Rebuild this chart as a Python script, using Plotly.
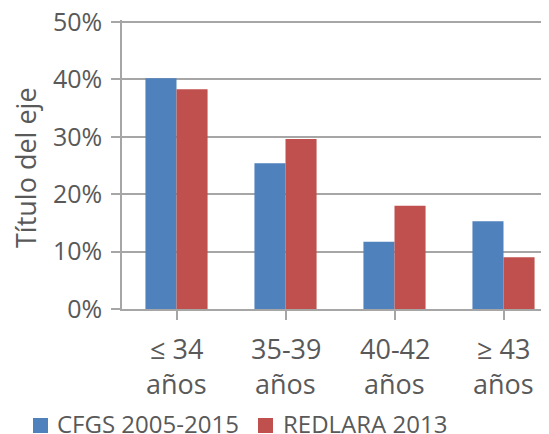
import plotly.graph_objects as go

categories = ["≤ 34", "35-39", "40-42", "≥ 43"]
cat_line2 = ["años", "años", "años", "años"]
cfgs = [0.402, 0.254, 0.117, 0.153]
redlara = [0.383, 0.296, 0.180, 0.090]
series_names = ["CFGS 2005-2015", "REDLARA 2013"]
series_colors = ["#4F81BD", "#C0504D"]
y_ticks = [0, 0.1, 0.2, 0.3, 0.4, 0.5]
y_ticklabels = ["0%", "10%", "20%", "30%", "40%", "50%"]
y_title = "Título del eje"

FONT = "Open Sans"
TXT = "#595959"
GRID = "#A6A6A6"

OFF = 8  # default page body margin shifts the figure by this much
WIN_W, WIN_H = 549, 434
FIG_W, FIG_H = WIN_W - OFF, WIN_H - OFF
# plot area in window pixels (0% at B, 50% at T)
L, T, B = 122, 22, 309
CAT_W = 109
Y_MAX = 0.5
Y_PAD = 2  # extra pixels above the top gridline so it is not clipped
PX_PER_UNIT = (B - T) / Y_MAX
ml, mt = L - OFF, T - OFF - Y_PAD
mb = FIG_H - (B - OFF)
W = FIG_W - ml
H = B - (T - Y_PAD)


def px_x(p):
    return (p - L) / W


def px_y(p):
    return (B - p) / H


xi = list(range(len(categories)))

fig = go.Figure()
fig.add_trace(go.Bar(x=xi, y=cfgs, name=series_names[0], showlegend=False,
                     marker=dict(color=series_colors[0], line=dict(width=0))))
fig.add_trace(go.Bar(x=xi, y=redlara, name=series_names[1], showlegend=False,
                     marker=dict(color=series_colors[1], line=dict(width=0))))

annotations = []
for i, (a, b) in enumerate(zip(categories, cat_line2)):
    annotations.append(dict(x=i, y=0, xref="x", yref="paper", text=a, showarrow=False,
                            yanchor="middle", yshift=-39.5, font=dict(size=27, color=TXT, family=FONT)))
    annotations.append(dict(x=i, y=0, xref="x", yref="paper", text=b, showarrow=False,
                            yanchor="middle", yshift=-74.5, font=dict(size=27, color=TXT, family=FONT)))

# y-axis title
annotations.append(dict(x=px_x(25), y=px_y(168), xref="paper", yref="paper", text=y_title,
                        showarrow=False, textangle=-90, xanchor="center", yanchor="middle",
                        font=dict(size=27, color=TXT, family=FONT)))

# legend (custom, to match spacing)
shapes = []
leg_sq_x = [33, 258]
leg_txt_x = [55, 281]
for name, col, sx, tx in zip(series_names, series_colors, leg_sq_x, leg_txt_x):
    shapes.append(dict(type="rect", xref="paper", yref="paper",
                       x0=px_x(sx), x1=px_x(sx + 15), y0=px_y(418), y1=px_y(433),
                       fillcolor=col, line=dict(width=0)))
    annotations.append(dict(x=px_x(tx), y=px_y(423), xref="paper", yref="paper", text=name,
                            showarrow=False, xanchor="left", yanchor="middle",
                            font=dict(size=24, color=TXT, family=FONT)))

fig.update_layout(
    width=FIG_W, height=FIG_H,
    margin=dict(l=ml, r=0, t=mt, b=mb, pad=0, autoexpand=False),
    paper_bgcolor="white", plot_bgcolor="white",
    barmode="group", bargap=0.43, bargroupgap=0,
    font=dict(family=FONT, size=22, color=TXT),
    showlegend=False,
    annotations=annotations,
    shapes=shapes,
)
fig.update_xaxes(
    range=[-0.5, -0.5 + W / CAT_W], tickvals=xi, showticklabels=False,
    ticks="outside", tickson="boundaries", ticklen=9, tickwidth=1.5, tickcolor=GRID,
    showline=True, linecolor=GRID, linewidth=1.5, showgrid=False, zeroline=False,
    automargin=False,
)
fig.update_yaxes(
    range=[0, Y_MAX + Y_PAD / PX_PER_UNIT], tickvals=y_ticks, ticktext=y_ticklabels,
    ticks="outside", ticklen=9, tickwidth=1.5, tickcolor=GRID,
    showline=True, linecolor=GRID, linewidth=1.5,
    showgrid=True, gridcolor=GRID, gridwidth=1.5, zeroline=False,
    tickfont=dict(size=25, color=TXT, family=FONT), ticklabelstandoff=4,
    ticklabeloverflow="allow",
    automargin=False,
)

fig.write_html("out.html")
